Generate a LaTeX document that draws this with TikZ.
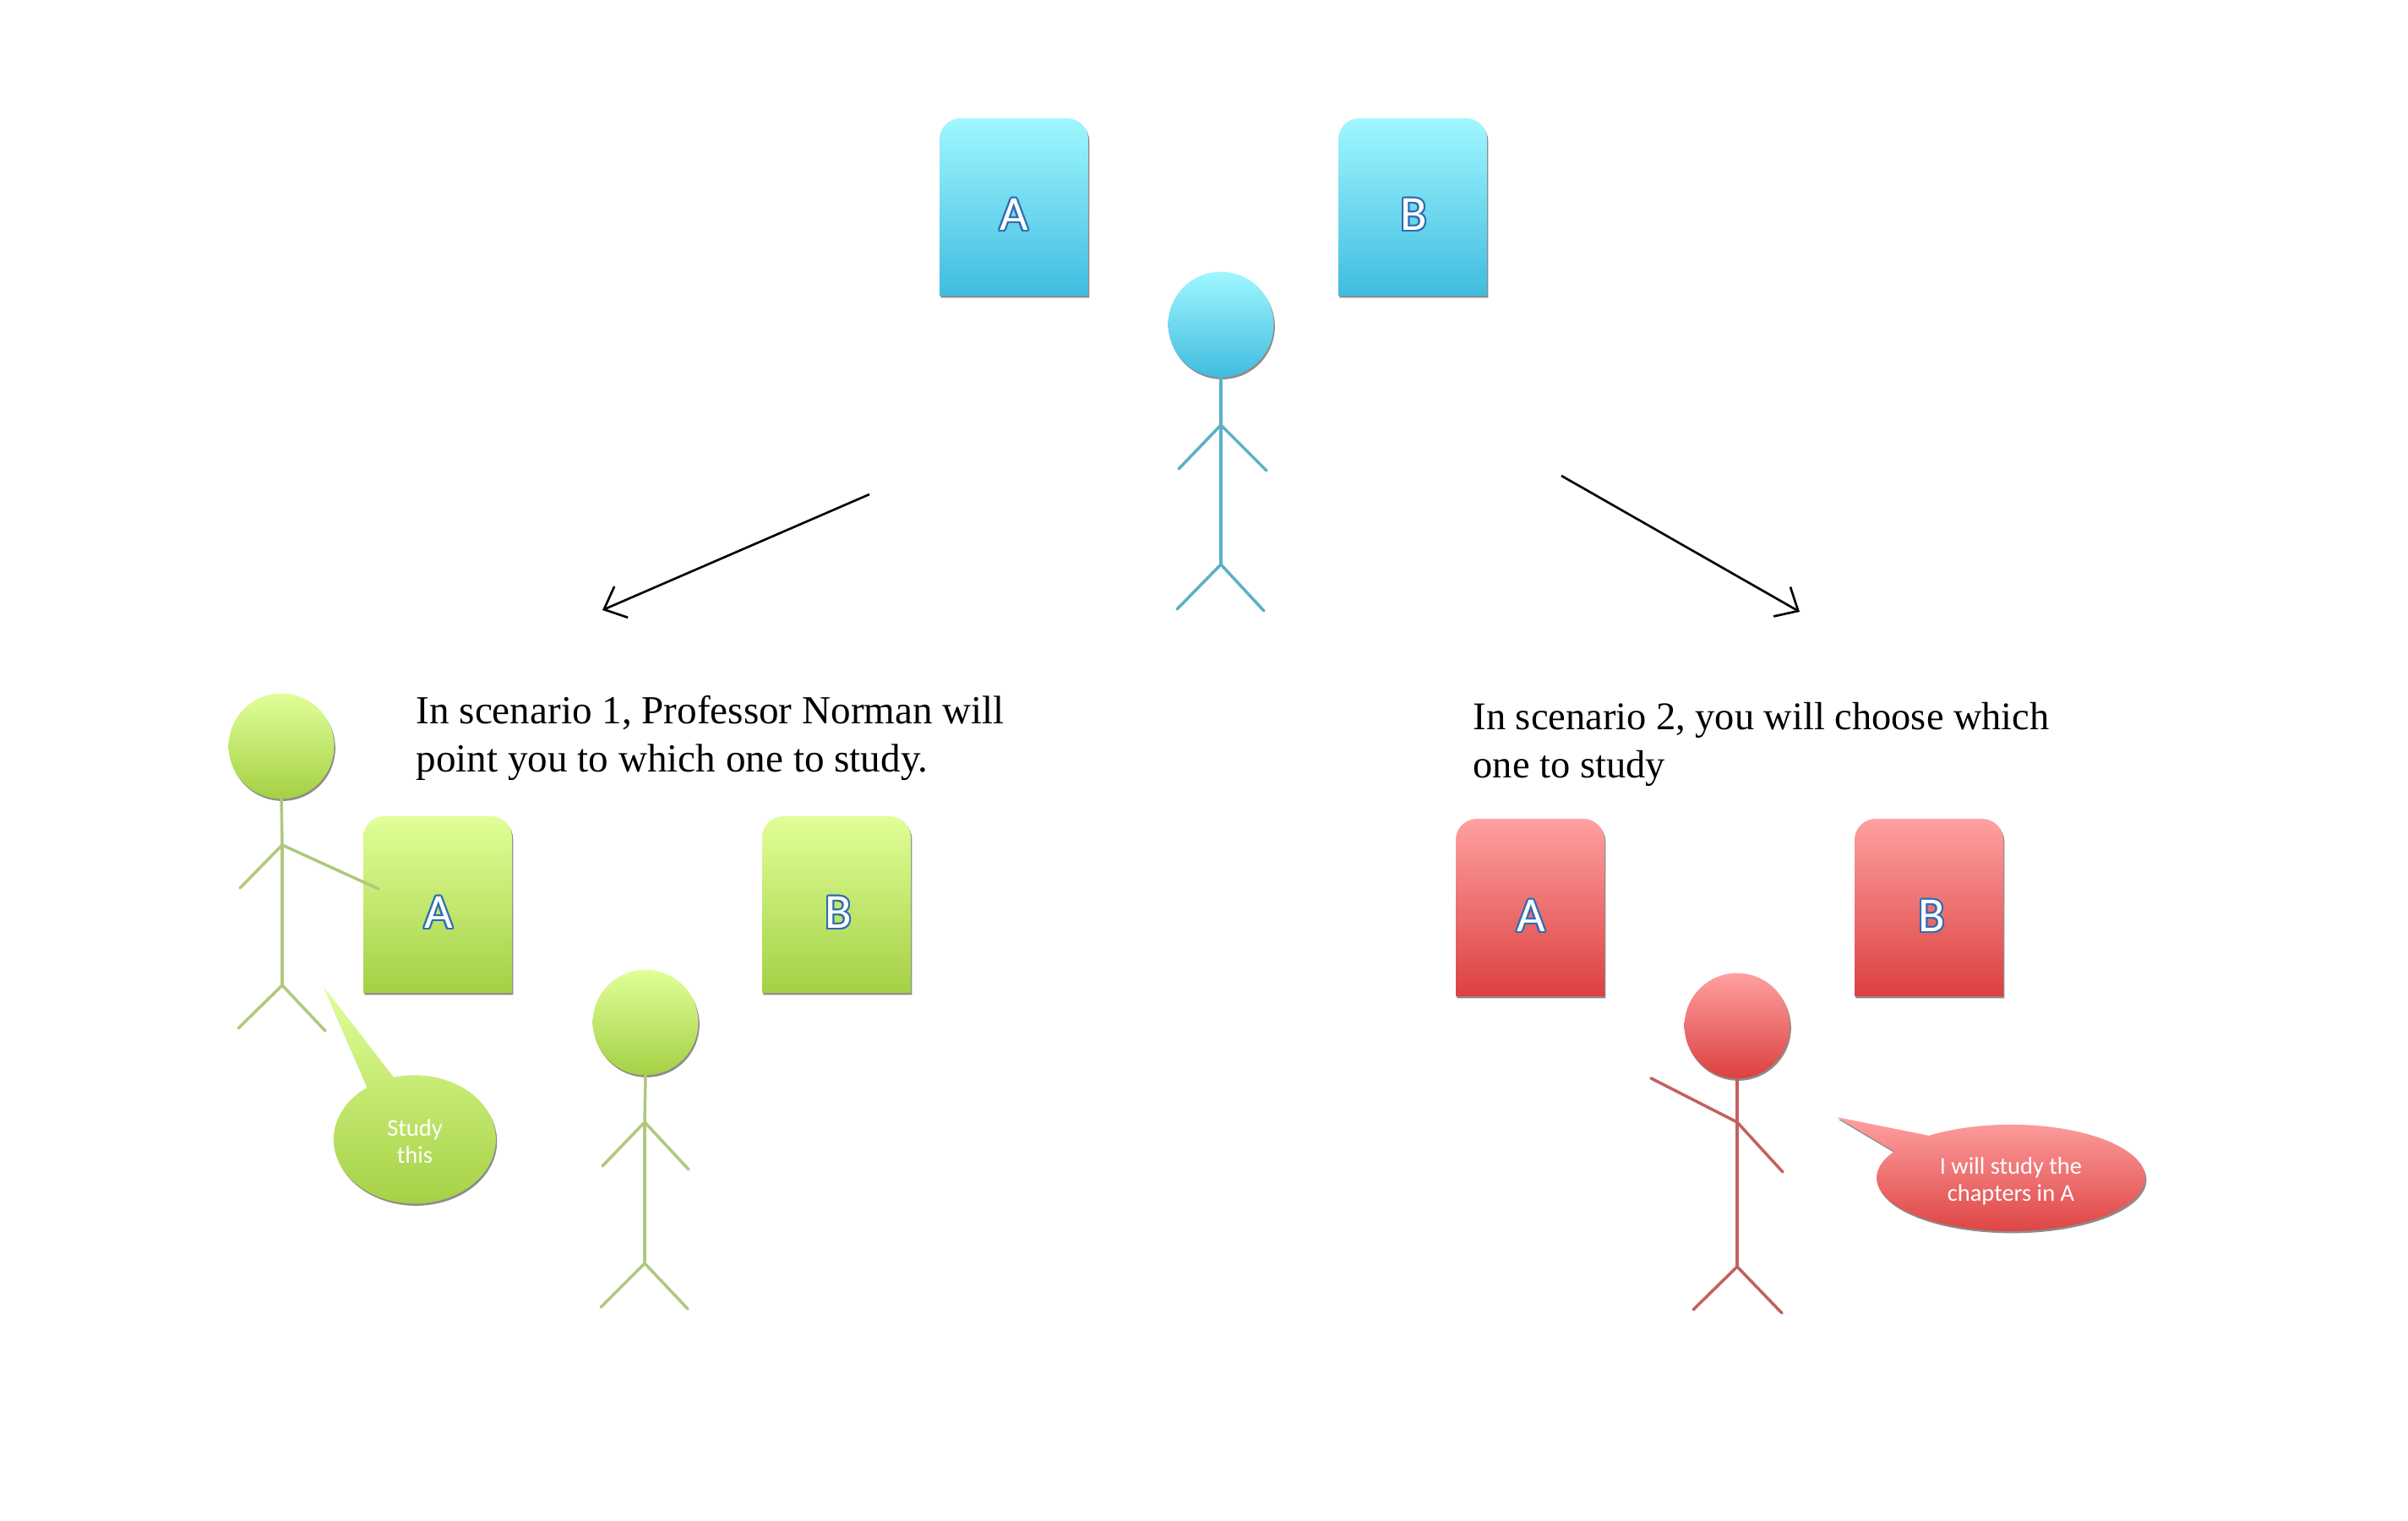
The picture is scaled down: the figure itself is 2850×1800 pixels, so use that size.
\documentclass[tikz,border=0pt]{standalone}
\usepackage{fontspec}
\setmainfont{Liberation Serif}
\newfontfamily\boxfont{Carlito}
\usepackage{contour}
\contourlength{0.6pt}
\usetikzlibrary{arrows.meta,shadows}
\definecolor{bluetop}{HTML}{A0F7FF}
\definecolor{bluebot}{HTML}{40BCE0}
\definecolor{blueline}{HTML}{5CB0C8}
\definecolor{greentop}{HTML}{E0FF98}
\definecolor{greenbot}{HTML}{A4D044}
\definecolor{greenline}{HTML}{AEC97C}
\definecolor{redtop}{HTML}{FFA0A0}
\definecolor{redbot}{HTML}{DC4040}
\definecolor{redline}{HTML}{C46060}
\definecolor{letterline}{HTML}{2F6DB5}
\tikzset{
  x=0.01cm,y=-0.01cm,
  softshadow/.style={drop shadow={shadow xshift=0.4pt,shadow yshift=-0.7pt,opacity=0.45,fill=black}},
  bluefill/.style={top color=bluetop,bottom color=bluebot,softshadow},
  greenfill/.style={top color=greentop,bottom color=greenbot,softshadow},
  redfill/.style={top color=redtop,bottom color=redbot,softshadow},
  head/.style={circle,inner sep=0pt,minimum size=35.5pt},
  limb/.style={line width=1pt,line cap=round},
  title/.style={anchor=base west,inner sep=0pt,font=\fontsize{13.4}{16}\selectfont},
  titleb/.style={anchor=base west,inner sep=0pt,font=\fontsize{13.2}{16}\selectfont},
  letter/.style={inner sep=0pt,font=\boxfont\fontsize{16.5}{18}\selectfont},
  balloon/.style={align=center,inner sep=0pt,text=white,font=\boxfont\fontsize{8.1}{9.2}\selectfont},
  pointer/.style={line width=0.75pt,-{Straight Barb[length=6.3pt,width=11.4pt]}},
}
\newcommand{\bookshape}[4]{% left, top, right, bottom
  (#1,#4) -- (#1,#2+25) arc[start angle=180,end angle=270,radius=25] -- (#3-25,#2)
  arc[start angle=270,end angle=360,radius=25] -- (#3,#4) -- cycle}
\newcommand{\boxletter}[1]{\contour{letterline}{\textcolor{white}{#1}}}
\begin{document}
\begin{tikzpicture}
\useasboundingbox (0,0) rectangle (2850,1800);

% top row
\foreach \l in {1112,1584}
\shade[bluefill] \bookshape{\l}{140}{\l+176}{350};
\node[letter] (topA) at (1200,255) {\boxletter{A}};
\node[letter] (topB) at (1673,255) {\boxletter{B}};
\node[head,bluefill] (tophead) at (1445,384) {};
\coordinate (topneck) at (1445,503);
\coordinate (tophip) at (1445,668);
\draw[limb,blueline] (tophead.south) -- (topneck) -- (tophip);
\draw[limb,blueline] (1395,555) -- (topneck) -- (1499,557);
\draw[limb,blueline] (1393,721) -- (tophip) -- (1496,723);

% arrows
\coordinate (leftstart) at (1029,585);
\coordinate (leftend) at (713,722);
\coordinate (rightstart) at (1848,563);
\coordinate (rightend) at (2130,724);
\draw[pointer] (leftstart) -- (leftend);
\draw[pointer] (rightstart) -- (rightend);

% scenario 1
\node[title] (oneline) at (492,856) {In scenario 1, Professor Norman will};
\node[title] (onelineb) at (492,913) {point you to which one to study.};
\foreach \l in {430,902}
\shade[greenfill] \bookshape{\l}{966}{\l+176}{1175};
\node[letter] (greenA) at (519,1081) {\boxletter{A}};
\node[letter] (greenB) at (992,1081) {\boxletter{B}};
\node[head,greenfill] (profhead) at (333,883) {};
\coordinate (profneck) at (334,1000);
\coordinate (profhip) at (334,1166);
\draw[limb,greenline] (profhead.south) -- (profneck) -- (profhip);
\draw[limb,greenline] (284,1051) -- (profneck) -- (448,1052);
\draw[limb,greenline] (282,1217) -- (profhip) -- (385,1220);
\node[head,greenfill] (youhead) at (764,1210) {};
\coordinate (youneck) at (763,1328);
\coordinate (youhip) at (763,1495);
\draw[limb,greenline] (youhead.south) -- (youneck) -- (youhip);
\draw[limb,greenline] (713,1380) -- (youneck) -- (815,1384);
\draw[limb,greenline] (711,1547) -- (youhip) -- (814,1549);
\shade[greenfill] (383,1168) -- (466,1275) arc[start angle=255,end angle=594,x radius=96,y radius=76] -- cycle;
\node[balloon] (study) at (491,1351) {Study\\this};

% scenario 2
\node[titleb] (twoline) at (1743,863) {In scenario 2, you will choose which};
\node[titleb] (twolineb) at (1743,920) {one to study};
\foreach \l in {1723,2195}
\shade[redfill] \bookshape{\l}{969}{\l+176}{1179};
\node[letter] (redA) at (1812,1085) {\boxletter{A}};
\node[letter] (redB) at (2286,1085) {\boxletter{B}};
\node[head,redfill] (redhead) at (2056,1214) {};
\coordinate (redneck) at (2056,1328);
\coordinate (redhip) at (2056,1499);
\draw[limb,redline] (redhead.south) -- (redneck) -- (redhip);
\draw[limb,redline] (1954,1276) -- (redneck) -- (2110,1387);
\draw[limb,redline] (2004,1550) -- (redhip) -- (2109,1554);
\shade[redfill] (2174,1322) -- (2283,1344) arc[start angle=232.4,end angle=569.8,x radius=159,y radius=63] -- cycle;
\node[balloon] (chapters) at (2380,1398) {I will study the\\chapters in A};
\end{tikzpicture}
\end{document}
